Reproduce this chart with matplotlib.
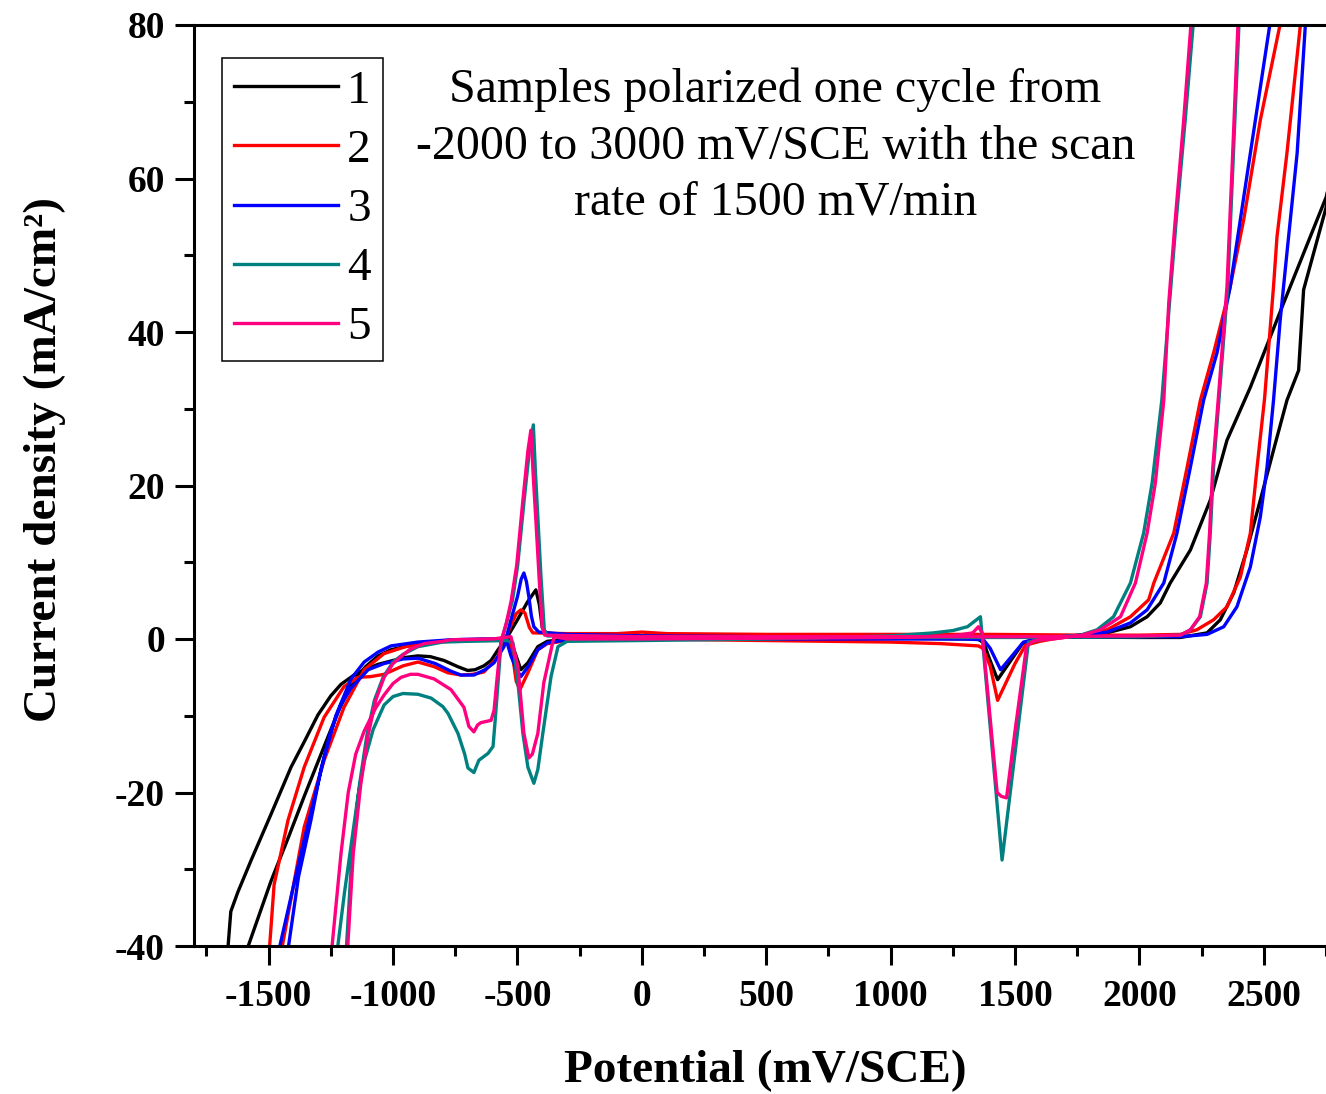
import matplotlib
matplotlib.use('Agg')
import matplotlib.pyplot as plt
from matplotlib.ticker import MultipleLocator

# ---------------- data (potential mV/SCE, current density mA/cm2) ----------------
labels = ['1', '2', '3', '4', '5']
colors = ['#000000', '#FF0000', '#0000FF', '#008080', '#FF0080']

x1 = [-1668, -1663, -1652, -1624, -1570, -1490, -1410, -1357, -1302, -1250, -1209, -1157, -1116, -1060,
      -1000, -950, -900, -850, -795, -740, -700, -670, -635, -606, -578, -540, -500, -460, -426, -412,
      -400, -385, -300, 0, 500, 1000, 1500, 2000, 2165, 2272, 2325, 2379, 2432, 2486, 2539, 2593, 2640,
      2660, 2751, 3000,
      3000, 2751, 2580, 2446, 2352, 2285, 2205, 2124, 2084, 2031, 1964, 1870, 1763, 1600, 1560, 1530,
      1430, 1394, 1375, 1350, 1000, 500, 0, -300, -380, -418, -458, -486, -514, -526, -600, -755, -900,
      -1008, -1060, -1110, -1141, -1169, -1221, -1277, -1357, -1420, -1490, -1582, -1620]
y1 = [-60, -40, -35.5, -33.0, -28.8, -22.8, -16.7, -13.4, -9.9, -7.4, -5.9, -4.7, -4.0, -3.3,
      -2.8, -2.4, -2.2, -2.3, -2.8, -3.6, -4.1, -4.0, -3.5, -2.8, -1.4, 0.3, 2.5, 4.8, 6.4, 4.5,
      1.5, 0.8, 0.5, 0.4, 0.3, 0.3, 0.3, 0.2, 0.2, 0.8, 2.5, 6.0, 11.6, 18.1, 24.6, 31.1, 35.0,
      45.5, 56.3, 90,
      95, 57.6, 43.8, 32.8, 25.9, 18.1, 11.6, 7.3, 4.7, 2.9, 1.6, 0.8, 0.3, 0.1, -0.2, -0.6,
      -5.3, -2.3, -0.5, 0.0, 0.1, 0.1, 0.1, 0.0, -0.3, -1.0, -3.1, -4.0, -1.4, 0.0, -0.1, -0.1, -0.6,
      -1.4, -2.2, -3.6, -4.8, -6.0, -9.5, -14.0, -20.5, -25.8, -31.5, -40.0, -44]

x2 = [-1505, -1496, -1478, -1422, -1357, -1277, -1197, -1141, -1090, -1036, -960, -900, -835, -780,
      -727, -680, -635, -578, -554, -530, -505, -486, -470, -452, -438, -300, -100, 0, 100, 500, 1000,
      1400, 1800, 2000, 2165, 2231, 2298, 2352, 2406, 2446, 2473, 2503, 2539, 2553, 2593, 2647, 2750, 3000,
      3000, 2700, 2565, 2486, 2419, 2365, 2300, 2245, 2192, 2138, 2058, 2037, 1964, 1870, 1763, 1650,
      1600, 1542, 1500, 1430, 1400, 1370, 1353, 1200, 1000, 500, 0, -300, -380, -418, -458, -490, -505,
      -518, -530, -560, -700, -850, -950, -1036, -1116, -1197, -1277, -1357, -1445, -1460]
y2 = [-50, -40, -32, -23.6, -16.7, -10.2, -6.2, -5.0, -4.9, -4.6, -3.5, -3.0, -3.6, -4.4,
      -4.7, -4.6, -4.3, -2.3, -0.5, 1.5, 3.3, 3.8, 3.4, 1.5, 0.8, 0.7, 0.7, 0.9, 0.7, 0.6, 0.6,
      0.6, 0.5, 0.5, 0.6, 1.2, 2.5, 4.2, 8.1, 13.8, 22.4, 31.3, 45.9, 52.4, 63.3, 80, 112, 190,
      200, 115, 80, 67.6, 54.6, 45.9, 37.5, 31.1, 22.4, 13.8, 7.3, 5.1, 2.9, 1.2, 0.5, 0.0,
      -0.3, -0.8, -3.2, -8.0, -3.5, -1.2, -0.9, -0.6, -0.4, -0.2, 0.0, -0.2, -0.6, -1.4, -4.4, -6.6, -5.5,
      -2.5, -0.5, 0.0, -0.1, -0.5, -1.0, -1.9, -4.0, -8.9, -15.8, -24.5, -40, -43]

x3 = [-1428, -1420, -1380, -1330, -1290, -1249, -1210, -1169, -1100, -1036, -960, -900, -830, -767,
      -727, -675, -630, -594, -554, -526, -500, -485, -474, -464, -454, -444, -434, -414, -300, 0, 500,
      1000, 1500, 2000, 2165, 2272, 2339, 2392, 2446, 2486, 2513, 2539, 2566, 2593, 2634, 2667, 2750, 3000,
      3000, 2600, 2524, 2446, 2365, 2312, 2258, 2205, 2151, 2098, 2031, 1964, 1870, 1763, 1600, 1534,
      1442, 1400, 1373, 1300, 1000, 0, -300, -380, -418, -455, -486, -505, -526, -546, -650, -767, -900,
      -1008, -1060, -1116, -1169, -1230, -1277, -1370, -1455, -1470]
y3 = [-50, -40, -31, -23.6, -17.0, -11.9, -8.6, -6.4, -4.0, -3.2, -2.6, -2.5, -3.2, -4.2,
      -4.7, -4.7, -4.0, -3.1, -1.0, 2.5, 5.5, 7.8, 8.6, 7.5, 5.5, 3.0, 1.6, 0.9, 0.6, 0.4, 0.3,
      0.3, 0.3, 0.3, 0.3, 0.6, 1.6, 4.2, 9.4, 15.9, 22.4, 31.1, 41.6, 50.3, 63.3, 80, 106, 185,
      195, 103, 80, 63.3, 45.9, 37.3, 31.1, 22.4, 13.8, 7.3, 3.8, 2.1, 0.9, 0.5, 0.1, -0.4,
      -4.0, -1.2, -0.1, 0.0, 0.0, 0.0, -0.1, -0.5, -1.4, -3.5, -4.9, -3.9, -2.2, 0.0, 0.0, -0.1, -0.4,
      -0.9, -1.7, -3.0, -5.2, -10.0, -15.5, -27.9, -40, -43]

x4 = [-1230, -1222, -1195, -1169, -1141, -1116, -1080, -1036, -1000, -960, -900, -847, -800, -779,
      -739, -712, -699, -675, -655, -618, -598, -588, -578, -566, -545, -520, -499, -473, -452, -436,
      -428, -419, -406, -392, -380, 0, 500, 1000, 1500, 2000, 2165, 2205, 2245, 2272, 2285, 2298, 2320,
      2355, 2378, 2400, 2450, 3000,
      2300, 2216, 2184, 2148, 2121, 2090, 2051, 2017, 1964, 1896, 1830, 1763, 1650, 1554, 1448, 1361,
      1309, 1250, 1173, 1000, 500, 0, -300, -337, -365, -398, -418, -434, -458, -478, -498, -518, -540,
      -700, -800, -900, -960, -1000, -1040, -1075, -1105, -1135, -1165, -1187, -1195]
y4 = [-50, -40, -33, -27, -20.5, -16, -11.8, -8.6, -7.5, -7.1, -7.2, -7.7, -8.8, -9.7,
      -12.3, -15.0, -16.8, -17.4, -15.8, -14.9, -14.0, -10.0, -5.7, -0.5, 2.0, 5.0, 9.6, 18.1, 24.5, 27.9,
      22.0, 16.5, 8.5, 1.2, 0.4, 0.3, 0.2, 0.2, 0.2, 0.3, 0.5, 1.2, 2.9, 7.3, 13.8, 22.4, 31.3,
      45.9, 63.3, 80, 120, 400,
      125, 80, 67.6, 54.6, 43.8, 31.1, 20.3, 13.8, 7.3, 2.9, 1.2, 0.5, 0.2, -0.4, -28.8, 2.9,
      1.6, 1.1, 0.8, 0.4, 0.0, -0.2, -0.3, -1.0, -4.9, -12.3, -17.0, -18.8, -16.7, -12.3, -5.7, -0.5, -0.2,
      -0.3, -0.4, -1.0, -2.0, -3.0, -5.0, -8.0, -12.5, -19, -28, -40, -45]

x5 = [-1252, -1245, -1209, -1180, -1150, -1116, -1070, -1036, -1000, -968, -930, -900, -835, -767,
      -715, -695, -675, -660, -647, -606, -594, -580, -566, -545, -525, -503, -478, -458, -446, -436,
      -425, -412, -400, -390, 0, 500, 1000, 1500, 2000, 2165, 2205, 2242, 2269, 2282, 2295, 2317, 2352,
      2375, 2396, 2450, 3000,
      2290, 2207, 2178, 2144, 2118, 2098, 2064, 2031, 1984, 1924, 1843, 1770, 1650, 1600, 1570, 1546,
      1500, 1466, 1445, 1428, 1400, 1368, 1353, 1330, 1250, 1000, 0, -300, -353, -394, -418, -440, -454,
      -474, -498, -526, -600, -767, -800, -875, -930, -968, -1000, -1036, -1070, -1100, -1130, -1160,
      -1182, -1190]
y5 = [-50, -40, -27.9, -20.0, -15.0, -12.0, -9.0, -7.3, -5.8, -5.0, -4.6, -4.6, -5.2, -6.6,
      -8.9, -11.4, -12.1, -11.2, -10.9, -10.6, -9.3, -4.5, -0.3, 2.0, 5.0, 9.6, 18.1, 24.5, 27.2, 21.0,
      15.0, 7.5, 1.5, 0.5, 0.3, 0.3, 0.3, 0.3, 0.4, 0.5, 1.2, 2.9, 7.3, 13.8, 22.4, 31.3, 45.9,
      63.3, 80, 125, 410,
      125, 80, 67.6, 54.6, 43.8, 31.1, 20.3, 13.8, 7.3, 2.9, 1.2, 0.5, 0.0, -0.1, -0.3, -1.0,
      -12.0, -20.7, -20.5, -20.0, -10.3, 0.8, 1.6, 0.8, 0.4, 0.2, 0.0, 0.0, 0.3, -5.7, -12.3, -15.0, -15.5,
      -12.3, -3.6, 0.3, 0.0, -0.1, -0.3, -0.6, -1.3, -2.3, -3.2, -5.0, -8.0, -12.5, -19, -28,
      -40, -45]

xs = [x1, x2, x3, x4, x5]
ys = [y1, y2, y3, y4, y5]

annotation = 'Samples polarized one cycle from\n-2000 to 3000 mV/SCE with the scan\nrate of 1500 mV/min'

# ---------------- figure ----------------
plt.rcParams['font.family'] = ['Liberation Serif', 'DejaVu Serif']
plt.rcParams['font.weight'] = 'bold'
plt.rcParams['axes.unicode_minus'] = False

W, H = 1326, 1094
fig = plt.figure(figsize=(W / 100, H / 100), dpi=100)
ax = fig.add_axes([194 / W, 148 / H, 1132 / W, 921 / H])

for x, y, c, lab in zip(xs, ys, colors, labels):
    ax.plot(x, y, color=c, lw=2.4, label=lab, solid_joinstyle='round')

ax.set_xlim(-1800, 2750)
ax.set_ylim(-40, 80)
ax.xaxis.set_major_locator(MultipleLocator(500))
ax.xaxis.set_minor_locator(MultipleLocator(250))
ax.yaxis.set_major_locator(MultipleLocator(20))
ax.yaxis.set_minor_locator(MultipleLocator(10))

ax.spines['right'].set_visible(False)
for s in ['left', 'bottom', 'top']:
    ax.spines[s].set_linewidth(2.2)
ax.tick_params(which='major', direction='out', length=14, width=2.2, labelsize=27)
ax.tick_params(axis='x', which='major', pad=10)
ax.tick_params(axis='y', which='major', pad=7)
ax.tick_params(which='minor', direction='out', length=7, width=2.2)
ax.tick_params(which='both', top=False, right=False)

ax.set_xlabel('Potential (mV/SCE)', fontsize=34, fontweight='bold')
ax.set_ylabel('Current density (mA/cm²)', fontsize=34, fontweight='bold')
ax.xaxis.label.set_verticalalignment('center')
ax.yaxis.label.set_verticalalignment('center')
ax.xaxis.set_label_coords((765.5 - 194) / 1132, (946 - 1071) / 921)
ax.yaxis.set_label_coords((45 - 194) / 1132, (946 - 460) / 921)

leg = ax.legend(loc='upper left', bbox_to_anchor=(222 / W, 1 - 58 / H), bbox_transform=fig.transFigure,
                prop={'family': 'Liberation Serif', 'weight': 'normal', 'size': 34},
                frameon=True, fancybox=False, framealpha=1, edgecolor='black',
                borderpad=0.25, handlelength=2.2, handletextpad=0.2, labelspacing=0.34,
                borderaxespad=0)
leg.get_frame().set_linewidth(1.1)

fig.text(775.5 / W, 1 - 146 / H, annotation, ha='center', va='center', fontsize=34.5,
         fontweight='normal', linespacing=1.35)

fig.savefig('out.png', dpi=100)
